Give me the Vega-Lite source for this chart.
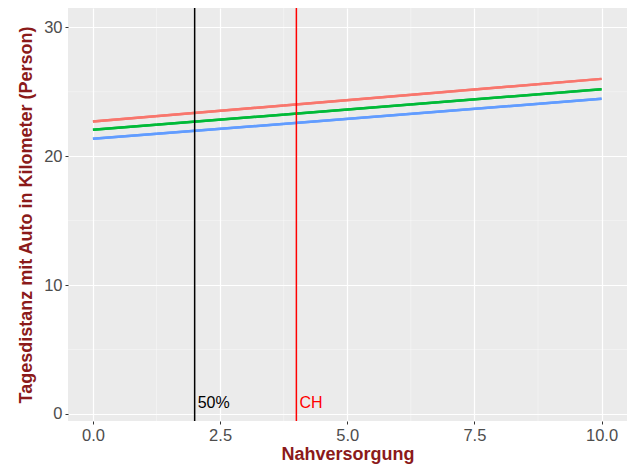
{
  "$schema": "https://vega.github.io/schema/vega-lite/v6.json",
  "width": 559,
  "height": 413,
  "autosize": {"type": "none"},
  "padding": {"left": 68, "top": 8, "right": 0, "bottom": 49},
  "background": "white",
  "config": {
    "font": "Liberation Sans",
    "view": {"fill": "#EBEBEB", "stroke": null},
    "axis": {
      "domain": false,
      "gridColor": "white",
      "gridWidth": 1.2,
      "tickColor": "#333333",
      "tickSize": 3,
      "labelColor": "#4D4D4D",
      "labelFontSize": 16.5,
      "labelPadding": 3,
      "titleColor": "#8B1A1A",
      "titleFontSize": 18,
      "titleFontWeight": "bold"
    }
  },
  "datasets": {
    "lines": [
      {"x": 0, "y": 22.7, "g": "a"},
      {"x": 10, "y": 26.0, "g": "a"},
      {"x": 0, "y": 22.05, "g": "b"},
      {"x": 10, "y": 25.2, "g": "b"},
      {"x": 0, "y": 21.35, "g": "c"},
      {"x": 10, "y": 24.45, "g": "c"}
    ],
    "vlines": [
      {"x": 2, "label": "50%", "c": "black"},
      {"x": 4, "label": "CH", "c": "red"}
    ],
    "minorx": [{"v": 1.25}, {"v": 3.75}, {"v": 6.25}, {"v": 8.75}],
    "minory": [{"v": 5}, {"v": 15}, {"v": 25}]
  },
  "layer": [
    {
      "data": {"name": "lines"},
      "mark": {"type": "line", "strokeWidth": 2.5},
      "encoding": {
        "x": {
          "field": "x", "type": "quantitative",
          "scale": {"domain": [-0.49, 10.5], "nice": false, "zero": false},
          "axis": {"title": "Nahversorgung", "values": [0, 2.5, 5, 7.5, 10], "format": ".1f", "titlePadding": 2}
        },
        "y": {
          "field": "y", "type": "quantitative",
          "scale": {"domain": [-0.55, 31.5], "nice": false, "zero": false},
          "axis": {"title": "Tagesdistanz mit Auto in Kilometer (Person)", "values": [0, 10, 20, 30], "titlePadding": 8}
        },
        "color": {
          "field": "g", "type": "nominal",
          "scale": {"domain": ["a", "b", "c"], "range": ["#F8766D", "#00BA38", "#619CFF"]},
          "legend": null
        }
      }
    },
    {
      "data": {"name": "minorx"},
      "mark": {"type": "rule", "color": "white", "strokeWidth": 0.6, "opacity": 0.6},
      "encoding": {
        "x": {"field": "v", "type": "quantitative"}
      }
    },
    {
      "data": {"name": "minory"},
      "mark": {"type": "rule", "color": "white", "strokeWidth": 0.6, "opacity": 0.6},
      "encoding": {
        "y": {"field": "v", "type": "quantitative"}
      }
    },
    {
      "data": {"name": "lines"},
      "mark": {"type": "line", "strokeWidth": 2.5},
      "encoding": {
        "x": {"field": "x", "type": "quantitative"},
        "y": {"field": "y", "type": "quantitative"},
        "color": {"field": "g", "type": "nominal"}
      }
    },
    {
      "data": {"name": "vlines"},
      "mark": {"type": "rule", "strokeWidth": 1.5},
      "encoding": {
        "x": {"field": "x", "type": "quantitative"},
        "color": {"field": "c", "type": "nominal", "scale": null}
      }
    },
    {
      "data": {"name": "vlines"},
      "mark": {"type": "text", "align": "left", "baseline": "alphabetic", "dx": 3, "dy": -6, "fontSize": 16},
      "encoding": {
        "x": {"field": "x", "type": "quantitative"},
        "y": {"datum": 0, "type": "quantitative"},
        "text": {"field": "label"},
        "color": {"field": "c", "type": "nominal", "scale": null}
      }
    }
  ]
}
